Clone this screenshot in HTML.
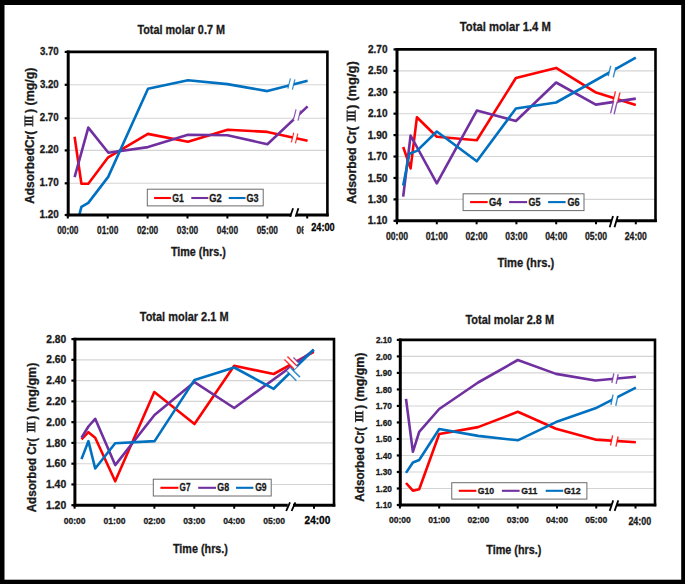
<!DOCTYPE html>
<html><head><meta charset="utf-8"><style>
html,body{margin:0;padding:0;background:#000;overflow:hidden}
svg{display:block}
text{font-family:"Liberation Sans",sans-serif}
</style></head><body>
<svg width="685" height="584" viewBox="0 0 685 584">
<rect x="0" y="0" width="685" height="584" fill="#000"/>
<rect x="4.5" y="5" width="676.7" height="574.7" fill="#fff"/>
<line x1="68.2" y1="84.80" x2="327.4" y2="84.80" stroke="#d4d4d4" stroke-width="1.1"/>
<line x1="68.2" y1="118.30" x2="327.4" y2="118.30" stroke="#d4d4d4" stroke-width="1.1"/>
<line x1="68.2" y1="150.40" x2="327.4" y2="150.40" stroke="#d4d4d4" stroke-width="1.1"/>
<line x1="68.2" y1="183.30" x2="327.4" y2="183.30" stroke="#d4d4d4" stroke-width="1.1"/>
<clipPath id="clip0"><rect x="68.2" y="51.9" width="259.2" height="163.1"/></clipPath>
<g clip-path="url(#clip0)" fill="none" stroke-width="2.6" stroke-linejoin="round" stroke-linecap="butt">
<polyline points="74.6,136.7 81.4,183.8 88.3,183.8 108.2,157.3 147.9,133.9 188.0,141.8 227.6,129.7 267.4,131.9 307.6,140.7" stroke="#ff0000"/>
<polyline points="74.6,177.2 88.3,127.6 108.4,152.7 148.0,147.1 188.0,134.8 227.4,135.2 267.4,144.3 307.6,106.4" stroke="#7030a0"/>
<polyline points="74.6,233.4 81.4,206.9 88.3,202.9 108.2,176.9 148.0,88.7 188.0,80.2 227.4,84.1 267.4,91.1 307.6,80.8" stroke="#0070c0"/>
</g>
<g transform="translate(291.4,84.0) rotate(14)">
<rect x="-2.30" y="-5.75" width="4.60" height="11.50" fill="#fff"/>
<line x1="-2.30" y1="-5.25" x2="-2.30" y2="5.25" stroke="#0070c0" stroke-width="1.2" stroke-opacity="0.8"/>
<line x1="2.30" y1="-5.25" x2="2.30" y2="5.25" stroke="#0070c0" stroke-width="1.2" stroke-opacity="0.8"/>
</g>
<g transform="translate(297.0,115.0) rotate(14)">
<rect x="-2.30" y="-5.75" width="4.60" height="11.50" fill="#fff"/>
<line x1="-2.30" y1="-5.25" x2="-2.30" y2="5.25" stroke="#7030a0" stroke-width="1.2" stroke-opacity="0.8"/>
<line x1="2.30" y1="-5.25" x2="2.30" y2="5.25" stroke="#7030a0" stroke-width="1.2" stroke-opacity="0.8"/>
</g>
<g transform="translate(294.6,138.0) rotate(14)">
<rect x="-2.10" y="-5.50" width="4.20" height="11.00" fill="#fff"/>
<line x1="-2.10" y1="-5.00" x2="-2.10" y2="5.00" stroke="#ff0000" stroke-width="1.2" stroke-opacity="0.8"/>
<line x1="2.10" y1="-5.00" x2="2.10" y2="5.00" stroke="#ff0000" stroke-width="1.2" stroke-opacity="0.8"/>
</g>
<rect x="147.3" y="189.2" width="115.89999999999998" height="16.700000000000017" fill="#fff" stroke="#6b6b6b" stroke-width="1"/>
<line x1="154.1" y1="198" x2="170.9" y2="198" stroke="#ff0000" stroke-width="2.1"/>
<text x="172.14" y="201.90" font-size="10.61" textLength="11.60" lengthAdjust="spacingAndGlyphs" fill="#1a1a1a" stroke="#1a1a1a" stroke-width="0.3" font-weight="bold" >G1</text>
<line x1="191.3" y1="198" x2="208.3" y2="198" stroke="#7030a0" stroke-width="2.1"/>
<text x="209.32" y="201.90" font-size="10.61" textLength="12.46" lengthAdjust="spacingAndGlyphs" fill="#1a1a1a" stroke="#1a1a1a" stroke-width="0.3" font-weight="bold" >G2</text>
<line x1="228.7" y1="198" x2="245.5" y2="198" stroke="#0070c0" stroke-width="2.1"/>
<text x="246.53" y="201.90" font-size="10.61" textLength="12.10" lengthAdjust="spacingAndGlyphs" fill="#1a1a1a" stroke="#1a1a1a" stroke-width="0.3" font-weight="bold" >G3</text>
<path d="M68.2,51.9 H327.4 V215.0" fill="none" stroke="#000" stroke-width="2.6" stroke-linecap="square"/>
<line x1="68.2" y1="50.6" x2="68.2" y2="216.3" stroke="#000" stroke-width="3"/>
<line x1="66.7" y1="215.0" x2="291.5" y2="215.0" stroke="#000" stroke-width="3"/>
<line x1="296.5" y1="215.0" x2="328.7" y2="215.0" stroke="#000" stroke-width="3"/>
<line x1="293.1" y1="208.3" x2="290.1" y2="216.8" stroke="#000" stroke-width="1.8"/>
<line x1="298.4" y1="208.3" x2="295.6" y2="216.8" stroke="#000" stroke-width="1.8"/>
<line x1="64.7" y1="84.80" x2="68.2" y2="84.80" stroke="#000" stroke-width="2.2"/>
<line x1="64.7" y1="118.30" x2="68.2" y2="118.30" stroke="#000" stroke-width="2.2"/>
<line x1="64.7" y1="150.40" x2="68.2" y2="150.40" stroke="#000" stroke-width="2.2"/>
<line x1="64.7" y1="183.30" x2="68.2" y2="183.30" stroke="#000" stroke-width="2.2"/>
<line x1="64.7" y1="51.90" x2="68.2" y2="51.90" stroke="#000" stroke-width="2.2"/>
<line x1="64.7" y1="215.00" x2="68.2" y2="215.00" stroke="#000" stroke-width="2.2"/>
<line x1="67.80" y1="215.0" x2="67.80" y2="218.5" stroke="#000" stroke-width="2"/>
<line x1="107.70" y1="215.0" x2="107.70" y2="218.5" stroke="#000" stroke-width="2"/>
<line x1="147.60" y1="215.0" x2="147.60" y2="218.5" stroke="#000" stroke-width="2"/>
<line x1="187.50" y1="215.0" x2="187.50" y2="218.5" stroke="#000" stroke-width="2"/>
<line x1="227.40" y1="215.0" x2="227.40" y2="218.5" stroke="#000" stroke-width="2"/>
<line x1="267.30" y1="215.0" x2="267.30" y2="218.5" stroke="#000" stroke-width="2"/>
<line x1="307.20" y1="215.0" x2="307.20" y2="218.5" stroke="#000" stroke-width="2"/>
<text x="39.88" y="55.20" font-size="10.60" textLength="18.82" lengthAdjust="spacingAndGlyphs" fill="#1a1a1a" stroke="#1a1a1a" stroke-width="0.3" font-weight="bold" >3.70</text>
<text x="39.88" y="87.70" font-size="10.60" textLength="18.82" lengthAdjust="spacingAndGlyphs" fill="#1a1a1a" stroke="#1a1a1a" stroke-width="0.3" font-weight="bold" >3.20</text>
<text x="39.76" y="121.10" font-size="10.60" textLength="18.94" lengthAdjust="spacingAndGlyphs" fill="#1a1a1a" stroke="#1a1a1a" stroke-width="0.3" font-weight="bold" >2.70</text>
<text x="39.76" y="153.30" font-size="10.60" textLength="18.94" lengthAdjust="spacingAndGlyphs" fill="#1a1a1a" stroke="#1a1a1a" stroke-width="0.3" font-weight="bold" >2.20</text>
<text x="39.48" y="186.20" font-size="10.60" textLength="19.23" lengthAdjust="spacingAndGlyphs" fill="#1a1a1a" stroke="#1a1a1a" stroke-width="0.3" font-weight="bold" >1.70</text>
<text x="39.48" y="218.30" font-size="10.60" textLength="19.23" lengthAdjust="spacingAndGlyphs" fill="#1a1a1a" stroke="#1a1a1a" stroke-width="0.3" font-weight="bold" >1.20</text>
<text x="57.17" y="233.80" font-size="10.89" textLength="21.27" lengthAdjust="spacingAndGlyphs" fill="#1a1a1a" stroke="#1a1a1a" stroke-width="0.3" font-weight="bold" >00:00</text>
<text x="97.07" y="233.80" font-size="10.89" textLength="21.27" lengthAdjust="spacingAndGlyphs" fill="#1a1a1a" stroke="#1a1a1a" stroke-width="0.3" font-weight="bold" >01:00</text>
<text x="136.97" y="233.80" font-size="10.89" textLength="21.27" lengthAdjust="spacingAndGlyphs" fill="#1a1a1a" stroke="#1a1a1a" stroke-width="0.3" font-weight="bold" >02:00</text>
<text x="176.87" y="233.80" font-size="10.89" textLength="21.27" lengthAdjust="spacingAndGlyphs" fill="#1a1a1a" stroke="#1a1a1a" stroke-width="0.3" font-weight="bold" >03:00</text>
<text x="216.77" y="233.80" font-size="10.89" textLength="21.27" lengthAdjust="spacingAndGlyphs" fill="#1a1a1a" stroke="#1a1a1a" stroke-width="0.3" font-weight="bold" >04:00</text>
<text x="256.67" y="233.80" font-size="10.89" textLength="21.27" lengthAdjust="spacingAndGlyphs" fill="#1a1a1a" stroke="#1a1a1a" stroke-width="0.3" font-weight="bold" >05:00</text>
<text x="296.57" y="233.80" font-size="10.89" textLength="21.27" lengthAdjust="spacingAndGlyphs" fill="#1a1a1a" stroke="#1a1a1a" stroke-width="0.3" font-weight="bold" >06:00</text>
<rect x="303.6" y="219" width="34" height="17" fill="#fff"/>
<text x="311.18" y="231.10" font-size="11.03" textLength="23.50" lengthAdjust="spacingAndGlyphs" fill="#000" stroke="#000" stroke-width="0.3" font-weight="bold" >24:00</text>
<text x="137.38" y="33.70" font-size="12.50" textLength="87.54" lengthAdjust="spacingAndGlyphs" fill="#1a1a1a" stroke="#1a1a1a" stroke-width="0.3" font-weight="bold" >Total molar 0.7 M</text>
<text x="170.88" y="256.20" font-size="11.92" textLength="54.85" lengthAdjust="spacingAndGlyphs" fill="#1a1a1a" stroke="#1a1a1a" stroke-width="0.3" font-weight="bold" >Time (hrs.)</text>
<text transform="rotate(-90)" x="-203.80" y="33.50" font-size="12.65" textLength="73.01" lengthAdjust="spacingAndGlyphs" fill="#1a1a1a" stroke="#1a1a1a" stroke-width="0.3" font-weight="bold">AdsorbedCr(</text>
<text transform="rotate(-90)" x="-113.01" y="33.50" font-size="12.65" textLength="45.33" lengthAdjust="spacingAndGlyphs" fill="#1a1a1a" stroke="#1a1a1a" stroke-width="0.3" font-weight="bold">) (mg/g)</text>
<rect x="25.00" y="116.83" width="7.70" height="1.78" fill="#1a1a1a"/>
<rect x="25.00" y="120.16" width="7.70" height="1.78" fill="#1a1a1a"/>
<rect x="25.00" y="123.49" width="7.70" height="1.78" fill="#1a1a1a"/>
<rect x="24.40" y="115.50" width="1.0" height="11.10" fill="#1a1a1a"/>
<rect x="32.30" y="115.50" width="1.0" height="11.10" fill="#1a1a1a"/>
<line x1="397.0" y1="70.83" x2="655.5" y2="70.83" stroke="#d4d4d4" stroke-width="1.1"/>
<line x1="397.0" y1="92.25" x2="655.5" y2="92.25" stroke="#d4d4d4" stroke-width="1.1"/>
<line x1="397.0" y1="113.68" x2="655.5" y2="113.68" stroke="#d4d4d4" stroke-width="1.1"/>
<line x1="397.0" y1="135.10" x2="655.5" y2="135.10" stroke="#d4d4d4" stroke-width="1.1"/>
<line x1="397.0" y1="156.53" x2="655.5" y2="156.53" stroke="#d4d4d4" stroke-width="1.1"/>
<line x1="397.0" y1="177.95" x2="655.5" y2="177.95" stroke="#d4d4d4" stroke-width="1.1"/>
<line x1="397.0" y1="199.38" x2="655.5" y2="199.38" stroke="#d4d4d4" stroke-width="1.1"/>
<clipPath id="clip1"><rect x="397.0" y="49.4" width="258.5" height="171.4"/></clipPath>
<g clip-path="url(#clip1)" fill="none" stroke-width="2.6" stroke-linejoin="round" stroke-linecap="butt">
<polyline points="403.2,147.0 410.6,168.4 416.9,117.3 436.8,136.7 476.8,140.2 515.9,78.0 556.1,67.9 595.3,92.2 635.8,105.1" stroke="#ff0000"/>
<polyline points="403.2,196.6 410.6,135.5 436.8,183.4 476.8,110.6 515.9,121.0 556.1,82.5 595.8,104.6 635.8,98.6" stroke="#7030a0"/>
<polyline points="403.2,185.5 409.4,153.8 416.9,150.9 436.8,131.5 476.8,161.3 515.9,108.5 556.1,102.5 635.8,57.6" stroke="#0070c0"/>
</g>
<g transform="translate(612.0,71.6) rotate(14)">
<rect x="-2.60" y="-5.75" width="5.20" height="11.50" fill="#fff"/>
<line x1="-2.60" y1="-5.25" x2="-2.60" y2="5.25" stroke="#0070c0" stroke-width="1.4" stroke-opacity="0.8"/>
<line x1="2.60" y1="-5.25" x2="2.60" y2="5.25" stroke="#0070c0" stroke-width="1.4" stroke-opacity="0.8"/>
</g>
<g transform="translate(616.4,97.3) rotate(14)">
<rect x="-2.30" y="-6.00" width="4.60" height="12.00" fill="#fff"/>
<line x1="-2.30" y1="-5.50" x2="-2.30" y2="5.50" stroke="#ff0000" stroke-width="1.4" stroke-opacity="0.8"/>
<line x1="2.30" y1="-5.50" x2="2.30" y2="5.50" stroke="#ff0000" stroke-width="1.4" stroke-opacity="0.8"/>
</g>
<g transform="translate(613.9,107.5) rotate(14)">
<rect x="-1.80" y="-7.00" width="3.60" height="14.00" fill="#fff"/>
<line x1="-1.80" y1="-6.50" x2="-1.80" y2="6.50" stroke="#7030a0" stroke-width="1.4" stroke-opacity="0.8"/>
<line x1="1.80" y1="-6.50" x2="1.80" y2="6.50" stroke="#7030a0" stroke-width="1.4" stroke-opacity="0.8"/>
</g>
<rect x="463.1" y="193.8" width="120.89999999999998" height="16.799999999999983" fill="#fff" stroke="#6b6b6b" stroke-width="1"/>
<line x1="470.1" y1="202.1" x2="487.7" y2="202.1" stroke="#ff0000" stroke-width="2.1"/>
<text x="489.01" y="205.90" font-size="10.61" textLength="12.54" lengthAdjust="spacingAndGlyphs" fill="#1a1a1a" stroke="#1a1a1a" stroke-width="0.3" font-weight="bold" >G4</text>
<line x1="509.1" y1="202.1" x2="527.1" y2="202.1" stroke="#7030a0" stroke-width="2.1"/>
<text x="528.43" y="205.90" font-size="10.61" textLength="12.02" lengthAdjust="spacingAndGlyphs" fill="#1a1a1a" stroke="#1a1a1a" stroke-width="0.3" font-weight="bold" >G5</text>
<line x1="548.1" y1="202.1" x2="565.6" y2="202.1" stroke="#0070c0" stroke-width="2.1"/>
<text x="567.43" y="205.90" font-size="10.61" textLength="12.10" lengthAdjust="spacingAndGlyphs" fill="#1a1a1a" stroke="#1a1a1a" stroke-width="0.3" font-weight="bold" >G6</text>
<path d="M397.0,49.4 H655.5 V220.8" fill="none" stroke="#000" stroke-width="2.6" stroke-linecap="square"/>
<line x1="397.0" y1="48.1" x2="397.0" y2="222.10000000000002" stroke="#000" stroke-width="3"/>
<line x1="395.5" y1="220.8" x2="611.6" y2="220.8" stroke="#000" stroke-width="3"/>
<line x1="616.2" y1="220.8" x2="656.8" y2="220.8" stroke="#000" stroke-width="3"/>
<line x1="613.0" y1="216.0" x2="609.7" y2="227.3" stroke="#000" stroke-width="1.8"/>
<line x1="617.8" y1="216.0" x2="614.5" y2="227.3" stroke="#000" stroke-width="1.8"/>
<line x1="393.5" y1="70.83" x2="397.0" y2="70.83" stroke="#000" stroke-width="2.2"/>
<line x1="393.5" y1="92.25" x2="397.0" y2="92.25" stroke="#000" stroke-width="2.2"/>
<line x1="393.5" y1="113.68" x2="397.0" y2="113.68" stroke="#000" stroke-width="2.2"/>
<line x1="393.5" y1="135.10" x2="397.0" y2="135.10" stroke="#000" stroke-width="2.2"/>
<line x1="393.5" y1="156.53" x2="397.0" y2="156.53" stroke="#000" stroke-width="2.2"/>
<line x1="393.5" y1="177.95" x2="397.0" y2="177.95" stroke="#000" stroke-width="2.2"/>
<line x1="393.5" y1="199.38" x2="397.0" y2="199.38" stroke="#000" stroke-width="2.2"/>
<line x1="393.5" y1="49.40" x2="397.0" y2="49.40" stroke="#000" stroke-width="2.2"/>
<line x1="393.5" y1="220.80" x2="397.0" y2="220.80" stroke="#000" stroke-width="2.2"/>
<line x1="397.00" y1="220.8" x2="397.00" y2="224.3" stroke="#000" stroke-width="2"/>
<line x1="436.80" y1="220.8" x2="436.80" y2="224.3" stroke="#000" stroke-width="2"/>
<line x1="476.60" y1="220.8" x2="476.60" y2="224.3" stroke="#000" stroke-width="2"/>
<line x1="516.40" y1="220.8" x2="516.40" y2="224.3" stroke="#000" stroke-width="2"/>
<line x1="556.20" y1="220.8" x2="556.20" y2="224.3" stroke="#000" stroke-width="2"/>
<line x1="596.00" y1="220.8" x2="596.00" y2="224.3" stroke="#000" stroke-width="2"/>
<line x1="635.80" y1="220.8" x2="635.80" y2="224.3" stroke="#000" stroke-width="2"/>
<text x="367.95" y="53.05" font-size="10.46" textLength="19.56" lengthAdjust="spacingAndGlyphs" fill="#1a1a1a" stroke="#1a1a1a" stroke-width="0.3" font-weight="bold" >2.70</text>
<text x="367.95" y="74.48" font-size="10.46" textLength="19.56" lengthAdjust="spacingAndGlyphs" fill="#1a1a1a" stroke="#1a1a1a" stroke-width="0.3" font-weight="bold" >2.50</text>
<text x="367.95" y="95.90" font-size="10.46" textLength="19.56" lengthAdjust="spacingAndGlyphs" fill="#1a1a1a" stroke="#1a1a1a" stroke-width="0.3" font-weight="bold" >2.30</text>
<text x="367.95" y="117.33" font-size="10.46" textLength="19.56" lengthAdjust="spacingAndGlyphs" fill="#1a1a1a" stroke="#1a1a1a" stroke-width="0.3" font-weight="bold" >2.10</text>
<text x="367.66" y="138.75" font-size="10.46" textLength="19.86" lengthAdjust="spacingAndGlyphs" fill="#1a1a1a" stroke="#1a1a1a" stroke-width="0.3" font-weight="bold" >1.90</text>
<text x="367.66" y="160.18" font-size="10.46" textLength="19.86" lengthAdjust="spacingAndGlyphs" fill="#1a1a1a" stroke="#1a1a1a" stroke-width="0.3" font-weight="bold" >1.70</text>
<text x="367.66" y="181.60" font-size="10.46" textLength="19.86" lengthAdjust="spacingAndGlyphs" fill="#1a1a1a" stroke="#1a1a1a" stroke-width="0.3" font-weight="bold" >1.50</text>
<text x="367.66" y="203.03" font-size="10.46" textLength="19.86" lengthAdjust="spacingAndGlyphs" fill="#1a1a1a" stroke="#1a1a1a" stroke-width="0.3" font-weight="bold" >1.30</text>
<text x="367.66" y="224.45" font-size="10.46" textLength="19.86" lengthAdjust="spacingAndGlyphs" fill="#1a1a1a" stroke="#1a1a1a" stroke-width="0.3" font-weight="bold" >1.10</text>
<text x="385.96" y="239.80" font-size="10.32" textLength="22.10" lengthAdjust="spacingAndGlyphs" fill="#1a1a1a" stroke="#1a1a1a" stroke-width="0.3" font-weight="bold" >00:00</text>
<text x="425.76" y="239.80" font-size="10.32" textLength="22.10" lengthAdjust="spacingAndGlyphs" fill="#1a1a1a" stroke="#1a1a1a" stroke-width="0.3" font-weight="bold" >01:00</text>
<text x="465.56" y="239.80" font-size="10.32" textLength="22.10" lengthAdjust="spacingAndGlyphs" fill="#1a1a1a" stroke="#1a1a1a" stroke-width="0.3" font-weight="bold" >02:00</text>
<text x="505.36" y="239.80" font-size="10.32" textLength="22.10" lengthAdjust="spacingAndGlyphs" fill="#1a1a1a" stroke="#1a1a1a" stroke-width="0.3" font-weight="bold" >03:00</text>
<text x="545.16" y="239.80" font-size="10.32" textLength="22.10" lengthAdjust="spacingAndGlyphs" fill="#1a1a1a" stroke="#1a1a1a" stroke-width="0.3" font-weight="bold" >04:00</text>
<text x="584.96" y="239.80" font-size="10.32" textLength="22.10" lengthAdjust="spacingAndGlyphs" fill="#1a1a1a" stroke="#1a1a1a" stroke-width="0.3" font-weight="bold" >05:00</text>
<text x="624.80" y="239.80" font-size="10.32" textLength="22.05" lengthAdjust="spacingAndGlyphs" fill="#1a1a1a" stroke="#1a1a1a" stroke-width="0.3" font-weight="bold" >24:00</text>
<text x="459.77" y="30.80" font-size="12.94" textLength="91.07" lengthAdjust="spacingAndGlyphs" fill="#1a1a1a" stroke="#1a1a1a" stroke-width="0.3" font-weight="bold" >Total molar 1.4 M</text>
<text x="497.38" y="266.90" font-size="12.50" textLength="56.88" lengthAdjust="spacingAndGlyphs" fill="#1a1a1a" stroke="#1a1a1a" stroke-width="0.3" font-weight="bold" >Time (hrs.)</text>
<text transform="rotate(-90)" x="-203.80" y="356.20" font-size="13.08" textLength="77.41" lengthAdjust="spacingAndGlyphs" fill="#1a1a1a" stroke="#1a1a1a" stroke-width="0.3" font-weight="bold">Adsorbed Cr(</text>
<text transform="rotate(-90)" x="-109.01" y="356.20" font-size="13.08" textLength="47.86" lengthAdjust="spacingAndGlyphs" fill="#1a1a1a" stroke="#1a1a1a" stroke-width="0.3" font-weight="bold">) (mg/g)</text>
<rect x="347.20" y="111.49" width="7.90" height="1.86" fill="#1a1a1a"/>
<rect x="347.20" y="114.97" width="7.90" height="1.86" fill="#1a1a1a"/>
<rect x="347.20" y="118.45" width="7.90" height="1.86" fill="#1a1a1a"/>
<rect x="346.60" y="110.10" width="1.0" height="11.60" fill="#1a1a1a"/>
<rect x="354.70" y="110.10" width="1.0" height="11.60" fill="#1a1a1a"/>
<line x1="74.9" y1="359.86" x2="334.0" y2="359.86" stroke="#d4d4d4" stroke-width="1.1"/>
<line x1="74.9" y1="380.62" x2="334.0" y2="380.62" stroke="#d4d4d4" stroke-width="1.1"/>
<line x1="74.9" y1="401.39" x2="334.0" y2="401.39" stroke="#d4d4d4" stroke-width="1.1"/>
<line x1="74.9" y1="422.15" x2="334.0" y2="422.15" stroke="#d4d4d4" stroke-width="1.1"/>
<line x1="74.9" y1="442.91" x2="334.0" y2="442.91" stroke="#d4d4d4" stroke-width="1.1"/>
<line x1="74.9" y1="463.68" x2="334.0" y2="463.68" stroke="#d4d4d4" stroke-width="1.1"/>
<line x1="74.9" y1="484.44" x2="334.0" y2="484.44" stroke="#d4d4d4" stroke-width="1.1"/>
<clipPath id="clip2"><rect x="74.9" y="339.1" width="259.1" height="166.09999999999997"/></clipPath>
<g clip-path="url(#clip2)" fill="none" stroke-width="2.6" stroke-linejoin="round" stroke-linecap="butt">
<polyline points="81.5,439.4 88.4,432.2 95.2,437.7 115.2,481.3 154.3,392.0 194.5,424.0 234.2,365.8 273.7,374.0 313.8,351.9" stroke="#ff0000"/>
<polyline points="81.5,437.7 88.4,426.5 95.2,418.8 115.2,465.1 154.5,415.0 194.5,382.1 234.2,408.0 313.8,350.3" stroke="#7030a0"/>
<polyline points="81.5,459.1 88.4,441.1 95.2,468.5 115.2,443.2 154.6,441.1 194.5,379.9 234.2,367.5 273.7,388.8 313.8,349.5" stroke="#0070c0"/>
</g>
<g transform="translate(293.6,374.3) rotate(-45)">
<rect x="-2.50" y="-7.00" width="5.00" height="14.00" fill="#fff"/>
<line x1="-2.50" y1="-6.50" x2="-2.50" y2="6.50" stroke="#0070c0" stroke-width="1.5" stroke-opacity="0.8"/>
<line x1="2.50" y1="-6.50" x2="2.50" y2="6.50" stroke="#0070c0" stroke-width="1.5" stroke-opacity="0.8"/>
</g>
<g transform="translate(294.5,361.5) rotate(-45)">
<rect x="-2.00" y="-4.00" width="4.00" height="8.00" fill="#fff"/>
<line x1="-2.00" y1="-3.50" x2="-2.00" y2="3.50" stroke="#7030a0" stroke-width="1.4" stroke-opacity="0.8"/>
<line x1="2.00" y1="-3.50" x2="2.00" y2="3.50" stroke="#7030a0" stroke-width="1.4" stroke-opacity="0.8"/>
</g>
<g transform="translate(290.7,362.8) rotate(-45)">
<rect x="-2.10" y="-7.25" width="4.20" height="14.50" fill="#fff"/>
<line x1="-2.10" y1="-6.75" x2="-2.10" y2="6.75" stroke="#ff0000" stroke-width="1.5" stroke-opacity="0.8"/>
<line x1="2.10" y1="-6.75" x2="2.10" y2="6.75" stroke="#ff0000" stroke-width="1.5" stroke-opacity="0.8"/>
</g>
<rect x="153.3" y="479.2" width="117.89999999999998" height="16.80000000000001" fill="#fff" stroke="#6b6b6b" stroke-width="1"/>
<line x1="160.4" y1="487.8" x2="178.4" y2="487.8" stroke="#ff0000" stroke-width="2.1"/>
<text x="179.57" y="491.40" font-size="10.17" textLength="10.89" lengthAdjust="spacingAndGlyphs" fill="#1a1a1a" stroke="#1a1a1a" stroke-width="0.3" font-weight="bold" >G7</text>
<line x1="198.2" y1="487.8" x2="216.0" y2="487.8" stroke="#7030a0" stroke-width="2.1"/>
<text x="217.34" y="491.40" font-size="10.17" textLength="11.84" lengthAdjust="spacingAndGlyphs" fill="#1a1a1a" stroke="#1a1a1a" stroke-width="0.3" font-weight="bold" >G8</text>
<line x1="236.0" y1="487.8" x2="253.4" y2="487.8" stroke="#0070c0" stroke-width="2.1"/>
<text x="255.15" y="491.40" font-size="10.17" textLength="11.47" lengthAdjust="spacingAndGlyphs" fill="#1a1a1a" stroke="#1a1a1a" stroke-width="0.3" font-weight="bold" >G9</text>
<path d="M74.9,339.1 H334.0 V505.2" fill="none" stroke="#000" stroke-width="2.6" stroke-linecap="square"/>
<line x1="74.9" y1="337.8" x2="74.9" y2="506.5" stroke="#000" stroke-width="3"/>
<line x1="73.4" y1="505.2" x2="287.8" y2="505.2" stroke="#000" stroke-width="3"/>
<line x1="293.0" y1="505.2" x2="335.3" y2="505.2" stroke="#000" stroke-width="3"/>
<line x1="290.0" y1="502.3" x2="286.2" y2="511.0" stroke="#000" stroke-width="1.8"/>
<line x1="295.4" y1="502.3" x2="291.6" y2="511.0" stroke="#000" stroke-width="1.8"/>
<line x1="71.4" y1="359.86" x2="74.9" y2="359.86" stroke="#000" stroke-width="2.2"/>
<line x1="71.4" y1="380.62" x2="74.9" y2="380.62" stroke="#000" stroke-width="2.2"/>
<line x1="71.4" y1="401.39" x2="74.9" y2="401.39" stroke="#000" stroke-width="2.2"/>
<line x1="71.4" y1="422.15" x2="74.9" y2="422.15" stroke="#000" stroke-width="2.2"/>
<line x1="71.4" y1="442.91" x2="74.9" y2="442.91" stroke="#000" stroke-width="2.2"/>
<line x1="71.4" y1="463.68" x2="74.9" y2="463.68" stroke="#000" stroke-width="2.2"/>
<line x1="71.4" y1="484.44" x2="74.9" y2="484.44" stroke="#000" stroke-width="2.2"/>
<line x1="71.4" y1="339.10" x2="74.9" y2="339.10" stroke="#000" stroke-width="2.2"/>
<line x1="71.4" y1="505.20" x2="74.9" y2="505.20" stroke="#000" stroke-width="2.2"/>
<line x1="74.60" y1="505.2" x2="74.60" y2="508.7" stroke="#000" stroke-width="2"/>
<line x1="114.50" y1="505.2" x2="114.50" y2="508.7" stroke="#000" stroke-width="2"/>
<line x1="154.40" y1="505.2" x2="154.40" y2="508.7" stroke="#000" stroke-width="2"/>
<line x1="194.30" y1="505.2" x2="194.30" y2="508.7" stroke="#000" stroke-width="2"/>
<line x1="234.20" y1="505.2" x2="234.20" y2="508.7" stroke="#000" stroke-width="2"/>
<line x1="274.10" y1="505.2" x2="274.10" y2="508.7" stroke="#000" stroke-width="2"/>
<line x1="314.00" y1="505.2" x2="314.00" y2="508.7" stroke="#000" stroke-width="2"/>
<text x="46.24" y="342.70" font-size="10.32" textLength="19.98" lengthAdjust="spacingAndGlyphs" fill="#1a1a1a" stroke="#1a1a1a" stroke-width="0.3" font-weight="bold" >2.80</text>
<text x="46.24" y="363.46" font-size="10.32" textLength="19.98" lengthAdjust="spacingAndGlyphs" fill="#1a1a1a" stroke="#1a1a1a" stroke-width="0.3" font-weight="bold" >2.60</text>
<text x="46.24" y="384.23" font-size="10.32" textLength="19.98" lengthAdjust="spacingAndGlyphs" fill="#1a1a1a" stroke="#1a1a1a" stroke-width="0.3" font-weight="bold" >2.40</text>
<text x="46.24" y="404.99" font-size="10.32" textLength="19.98" lengthAdjust="spacingAndGlyphs" fill="#1a1a1a" stroke="#1a1a1a" stroke-width="0.3" font-weight="bold" >2.20</text>
<text x="46.24" y="425.75" font-size="10.32" textLength="19.98" lengthAdjust="spacingAndGlyphs" fill="#1a1a1a" stroke="#1a1a1a" stroke-width="0.3" font-weight="bold" >2.00</text>
<text x="45.94" y="446.51" font-size="10.32" textLength="20.28" lengthAdjust="spacingAndGlyphs" fill="#1a1a1a" stroke="#1a1a1a" stroke-width="0.3" font-weight="bold" >1.80</text>
<text x="45.94" y="467.28" font-size="10.32" textLength="20.28" lengthAdjust="spacingAndGlyphs" fill="#1a1a1a" stroke="#1a1a1a" stroke-width="0.3" font-weight="bold" >1.60</text>
<text x="45.94" y="488.04" font-size="10.32" textLength="20.28" lengthAdjust="spacingAndGlyphs" fill="#1a1a1a" stroke="#1a1a1a" stroke-width="0.3" font-weight="bold" >1.40</text>
<text x="45.94" y="508.80" font-size="10.32" textLength="20.28" lengthAdjust="spacingAndGlyphs" fill="#1a1a1a" stroke="#1a1a1a" stroke-width="0.3" font-weight="bold" >1.20</text>
<text x="63.66" y="524.00" font-size="9.74" textLength="21.89" lengthAdjust="spacingAndGlyphs" fill="#1a1a1a" stroke="#1a1a1a" stroke-width="0.3" font-weight="bold" >00:00</text>
<text x="103.56" y="524.00" font-size="9.74" textLength="21.89" lengthAdjust="spacingAndGlyphs" fill="#1a1a1a" stroke="#1a1a1a" stroke-width="0.3" font-weight="bold" >01:00</text>
<text x="143.46" y="524.00" font-size="9.74" textLength="21.89" lengthAdjust="spacingAndGlyphs" fill="#1a1a1a" stroke="#1a1a1a" stroke-width="0.3" font-weight="bold" >02:00</text>
<text x="183.36" y="524.00" font-size="9.74" textLength="21.89" lengthAdjust="spacingAndGlyphs" fill="#1a1a1a" stroke="#1a1a1a" stroke-width="0.3" font-weight="bold" >03:00</text>
<text x="223.26" y="524.00" font-size="9.74" textLength="21.89" lengthAdjust="spacingAndGlyphs" fill="#1a1a1a" stroke="#1a1a1a" stroke-width="0.3" font-weight="bold" >04:00</text>
<text x="263.16" y="524.00" font-size="9.74" textLength="21.89" lengthAdjust="spacingAndGlyphs" fill="#1a1a1a" stroke="#1a1a1a" stroke-width="0.3" font-weight="bold" >05:00</text>
<text x="304.55" y="524.40" font-size="10.89" textLength="25.76" lengthAdjust="spacingAndGlyphs" fill="#000" stroke="#000" stroke-width="0.3" font-weight="bold" >24:00</text>
<text x="139.78" y="320.90" font-size="13.23" textLength="88.75" lengthAdjust="spacingAndGlyphs" fill="#1a1a1a" stroke="#1a1a1a" stroke-width="0.3" font-weight="bold" >Total molar 2.1 M</text>
<text x="172.98" y="552.50" font-size="12.35" textLength="54.96" lengthAdjust="spacingAndGlyphs" fill="#1a1a1a" stroke="#1a1a1a" stroke-width="0.3" font-weight="bold" >Time (hrs.)</text>
<text transform="rotate(-90)" x="-512.29" y="35.70" font-size="12.06" textLength="74.30" lengthAdjust="spacingAndGlyphs" fill="#1a1a1a" stroke="#1a1a1a" stroke-width="0.3" font-weight="bold">Adsorbed Cr(</text>
<text transform="rotate(-90)" x="-419.71" y="35.70" font-size="12.06" textLength="57.04" lengthAdjust="spacingAndGlyphs" fill="#1a1a1a" stroke="#1a1a1a" stroke-width="0.3" font-weight="bold">) (mg/gm)</text>
<rect x="27.40" y="422.72" width="7.40" height="1.76" fill="#1a1a1a"/>
<rect x="27.40" y="426.02" width="7.40" height="1.76" fill="#1a1a1a"/>
<rect x="27.40" y="429.32" width="7.40" height="1.76" fill="#1a1a1a"/>
<rect x="26.80" y="421.40" width="1.0" height="11.00" fill="#1a1a1a"/>
<rect x="34.40" y="421.40" width="1.0" height="11.00" fill="#1a1a1a"/>
<line x1="400.3" y1="356.41" x2="655.0" y2="356.41" stroke="#d4d4d4" stroke-width="1.1"/>
<line x1="400.3" y1="372.92" x2="655.0" y2="372.92" stroke="#d4d4d4" stroke-width="1.1"/>
<line x1="400.3" y1="389.43" x2="655.0" y2="389.43" stroke="#d4d4d4" stroke-width="1.1"/>
<line x1="400.3" y1="405.94" x2="655.0" y2="405.94" stroke="#d4d4d4" stroke-width="1.1"/>
<line x1="400.3" y1="422.45" x2="655.0" y2="422.45" stroke="#d4d4d4" stroke-width="1.1"/>
<line x1="400.3" y1="438.96" x2="655.0" y2="438.96" stroke="#d4d4d4" stroke-width="1.1"/>
<line x1="400.3" y1="455.47" x2="655.0" y2="455.47" stroke="#d4d4d4" stroke-width="1.1"/>
<line x1="400.3" y1="471.98" x2="655.0" y2="471.98" stroke="#d4d4d4" stroke-width="1.1"/>
<line x1="400.3" y1="488.49" x2="655.0" y2="488.49" stroke="#d4d4d4" stroke-width="1.1"/>
<clipPath id="clip3"><rect x="400.3" y="339.9" width="254.7" height="165.10000000000002"/></clipPath>
<g clip-path="url(#clip3)" fill="none" stroke-width="2.6" stroke-linejoin="round" stroke-linecap="butt">
<polyline points="406.0,483.0 412.9,490.7 419.2,489.3 439.2,434.0 478.1,427.1 517.8,411.8 556.0,428.7 595.4,439.6 635.9,442.3" stroke="#ff0000"/>
<polyline points="406.0,398.9 412.9,451.8 419.2,431.8 439.2,409.0 478.1,382.5 517.8,360.0 556.0,373.9 595.4,380.5 635.9,376.8" stroke="#7030a0"/>
<polyline points="406.0,472.9 412.9,462.5 419.2,460.0 439.2,429.0 478.1,435.9 517.8,440.3 556.0,422.1 595.4,408.3 635.9,387.7" stroke="#0070c0"/>
</g>
<g transform="translate(615.0,378.6) rotate(12)">
<rect x="-2.20" y="-5.40" width="4.40" height="10.80" fill="#fff"/>
<line x1="-2.20" y1="-4.90" x2="-2.20" y2="4.90" stroke="#7030a0" stroke-width="1.4" stroke-opacity="0.8"/>
<line x1="2.20" y1="-4.90" x2="2.20" y2="4.90" stroke="#7030a0" stroke-width="1.4" stroke-opacity="0.8"/>
</g>
<g transform="translate(614.4,400.2) rotate(12)">
<rect x="-2.50" y="-5.70" width="5.00" height="11.40" fill="#fff"/>
<line x1="-2.50" y1="-5.20" x2="-2.50" y2="5.20" stroke="#0070c0" stroke-width="1.4" stroke-opacity="0.8"/>
<line x1="2.50" y1="-5.20" x2="2.50" y2="5.20" stroke="#0070c0" stroke-width="1.4" stroke-opacity="0.8"/>
</g>
<g transform="translate(614.3,441.0) rotate(12)">
<rect x="-2.80" y="-5.70" width="5.60" height="11.40" fill="#fff"/>
<line x1="-2.80" y1="-5.20" x2="-2.80" y2="5.20" stroke="#ff0000" stroke-width="1.4" stroke-opacity="0.8"/>
<line x1="2.80" y1="-5.20" x2="2.80" y2="5.20" stroke="#ff0000" stroke-width="1.4" stroke-opacity="0.8"/>
</g>
<rect x="451.75" y="482.7" width="135.14999999999998" height="16.400000000000034" fill="#fff" stroke="#6b6b6b" stroke-width="1"/>
<line x1="458.8" y1="490.8" x2="476.3" y2="490.8" stroke="#ff0000" stroke-width="2.1"/>
<text x="477.64" y="494.40" font-size="9.88" textLength="16.52" lengthAdjust="spacingAndGlyphs" fill="#1a1a1a" stroke="#1a1a1a" stroke-width="0.3" font-weight="bold" >G10</text>
<line x1="501.9" y1="490.8" x2="519.6" y2="490.8" stroke="#7030a0" stroke-width="2.1"/>
<text x="521.25" y="494.40" font-size="9.88" textLength="16.09" lengthAdjust="spacingAndGlyphs" fill="#1a1a1a" stroke="#1a1a1a" stroke-width="0.3" font-weight="bold" >G11</text>
<line x1="545.7" y1="490.8" x2="563.2" y2="490.8" stroke="#0070c0" stroke-width="2.1"/>
<text x="563.94" y="494.40" font-size="9.88" textLength="16.72" lengthAdjust="spacingAndGlyphs" fill="#1a1a1a" stroke="#1a1a1a" stroke-width="0.3" font-weight="bold" >G12</text>
<path d="M400.3,339.9 H655.0 V505.0" fill="none" stroke="#000" stroke-width="2.6" stroke-linecap="square"/>
<line x1="400.3" y1="338.59999999999997" x2="400.3" y2="506.3" stroke="#000" stroke-width="3"/>
<line x1="398.8" y1="505.0" x2="611.8" y2="505.0" stroke="#000" stroke-width="3"/>
<line x1="616.4" y1="505.0" x2="656.3" y2="505.0" stroke="#000" stroke-width="3"/>
<line x1="613.2" y1="500.4" x2="609.7" y2="510.9" stroke="#000" stroke-width="1.8"/>
<line x1="618.3" y1="500.4" x2="614.6" y2="510.9" stroke="#000" stroke-width="1.8"/>
<line x1="396.8" y1="356.41" x2="400.3" y2="356.41" stroke="#000" stroke-width="2.2"/>
<line x1="396.8" y1="372.92" x2="400.3" y2="372.92" stroke="#000" stroke-width="2.2"/>
<line x1="396.8" y1="389.43" x2="400.3" y2="389.43" stroke="#000" stroke-width="2.2"/>
<line x1="396.8" y1="405.94" x2="400.3" y2="405.94" stroke="#000" stroke-width="2.2"/>
<line x1="396.8" y1="422.45" x2="400.3" y2="422.45" stroke="#000" stroke-width="2.2"/>
<line x1="396.8" y1="438.96" x2="400.3" y2="438.96" stroke="#000" stroke-width="2.2"/>
<line x1="396.8" y1="455.47" x2="400.3" y2="455.47" stroke="#000" stroke-width="2.2"/>
<line x1="396.8" y1="471.98" x2="400.3" y2="471.98" stroke="#000" stroke-width="2.2"/>
<line x1="396.8" y1="488.49" x2="400.3" y2="488.49" stroke="#000" stroke-width="2.2"/>
<line x1="396.8" y1="339.90" x2="400.3" y2="339.90" stroke="#000" stroke-width="2.2"/>
<line x1="396.8" y1="505.00" x2="400.3" y2="505.00" stroke="#000" stroke-width="2.2"/>
<line x1="399.90" y1="505.0" x2="399.90" y2="508.5" stroke="#000" stroke-width="2"/>
<line x1="439.17" y1="505.0" x2="439.17" y2="508.5" stroke="#000" stroke-width="2"/>
<line x1="478.44" y1="505.0" x2="478.44" y2="508.5" stroke="#000" stroke-width="2"/>
<line x1="517.71" y1="505.0" x2="517.71" y2="508.5" stroke="#000" stroke-width="2"/>
<line x1="556.98" y1="505.0" x2="556.98" y2="508.5" stroke="#000" stroke-width="2"/>
<line x1="596.25" y1="505.0" x2="596.25" y2="508.5" stroke="#000" stroke-width="2"/>
<line x1="635.52" y1="505.0" x2="635.52" y2="508.5" stroke="#000" stroke-width="2"/>
<text x="375.91" y="343.00" font-size="8.88" textLength="16.02" lengthAdjust="spacingAndGlyphs" fill="#1a1a1a" stroke="#1a1a1a" stroke-width="0.3" font-weight="bold" >2.10</text>
<text x="375.91" y="359.51" font-size="8.88" textLength="16.02" lengthAdjust="spacingAndGlyphs" fill="#1a1a1a" stroke="#1a1a1a" stroke-width="0.3" font-weight="bold" >2.00</text>
<text x="375.67" y="376.02" font-size="8.88" textLength="16.27" lengthAdjust="spacingAndGlyphs" fill="#1a1a1a" stroke="#1a1a1a" stroke-width="0.3" font-weight="bold" >1.90</text>
<text x="375.67" y="392.53" font-size="8.88" textLength="16.27" lengthAdjust="spacingAndGlyphs" fill="#1a1a1a" stroke="#1a1a1a" stroke-width="0.3" font-weight="bold" >1.80</text>
<text x="375.67" y="409.04" font-size="8.88" textLength="16.27" lengthAdjust="spacingAndGlyphs" fill="#1a1a1a" stroke="#1a1a1a" stroke-width="0.3" font-weight="bold" >1.70</text>
<text x="375.67" y="425.55" font-size="8.88" textLength="16.27" lengthAdjust="spacingAndGlyphs" fill="#1a1a1a" stroke="#1a1a1a" stroke-width="0.3" font-weight="bold" >1.60</text>
<text x="375.67" y="442.06" font-size="8.88" textLength="16.27" lengthAdjust="spacingAndGlyphs" fill="#1a1a1a" stroke="#1a1a1a" stroke-width="0.3" font-weight="bold" >1.50</text>
<text x="375.67" y="458.57" font-size="8.88" textLength="16.27" lengthAdjust="spacingAndGlyphs" fill="#1a1a1a" stroke="#1a1a1a" stroke-width="0.3" font-weight="bold" >1.40</text>
<text x="375.67" y="475.08" font-size="8.88" textLength="16.27" lengthAdjust="spacingAndGlyphs" fill="#1a1a1a" stroke="#1a1a1a" stroke-width="0.3" font-weight="bold" >1.30</text>
<text x="375.67" y="491.59" font-size="8.88" textLength="16.27" lengthAdjust="spacingAndGlyphs" fill="#1a1a1a" stroke="#1a1a1a" stroke-width="0.3" font-weight="bold" >1.20</text>
<text x="375.67" y="508.10" font-size="8.88" textLength="16.27" lengthAdjust="spacingAndGlyphs" fill="#1a1a1a" stroke="#1a1a1a" stroke-width="0.3" font-weight="bold" >1.10</text>
<text x="388.96" y="523.40" font-size="9.46" textLength="21.89" lengthAdjust="spacingAndGlyphs" fill="#1a1a1a" stroke="#1a1a1a" stroke-width="0.3" font-weight="bold" >00:00</text>
<text x="428.23" y="523.40" font-size="9.46" textLength="21.89" lengthAdjust="spacingAndGlyphs" fill="#1a1a1a" stroke="#1a1a1a" stroke-width="0.3" font-weight="bold" >01:00</text>
<text x="467.50" y="523.40" font-size="9.46" textLength="21.89" lengthAdjust="spacingAndGlyphs" fill="#1a1a1a" stroke="#1a1a1a" stroke-width="0.3" font-weight="bold" >02:00</text>
<text x="506.77" y="523.40" font-size="9.46" textLength="21.89" lengthAdjust="spacingAndGlyphs" fill="#1a1a1a" stroke="#1a1a1a" stroke-width="0.3" font-weight="bold" >03:00</text>
<text x="546.04" y="523.40" font-size="9.46" textLength="21.89" lengthAdjust="spacingAndGlyphs" fill="#1a1a1a" stroke="#1a1a1a" stroke-width="0.3" font-weight="bold" >04:00</text>
<text x="585.31" y="523.40" font-size="9.46" textLength="21.89" lengthAdjust="spacingAndGlyphs" fill="#1a1a1a" stroke="#1a1a1a" stroke-width="0.3" font-weight="bold" >05:00</text>
<text x="628.39" y="524.90" font-size="10.32" textLength="22.88" lengthAdjust="spacingAndGlyphs" fill="#1a1a1a" stroke="#1a1a1a" stroke-width="0.3" font-weight="bold" >24:00</text>
<text x="465.48" y="323.80" font-size="13.23" textLength="88.65" lengthAdjust="spacingAndGlyphs" fill="#1a1a1a" stroke="#1a1a1a" stroke-width="0.3" font-weight="bold" >Total molar 2.8 M</text>
<text x="486.28" y="553.70" font-size="12.50" textLength="55.06" lengthAdjust="spacingAndGlyphs" fill="#1a1a1a" stroke="#1a1a1a" stroke-width="0.3" font-weight="bold" >Time (hrs.)</text>
<text transform="rotate(-90)" x="-501.69" y="364.00" font-size="12.21" textLength="74.70" lengthAdjust="spacingAndGlyphs" fill="#1a1a1a" stroke="#1a1a1a" stroke-width="0.3" font-weight="bold">Adsorbed Cr(</text>
<text transform="rotate(-90)" x="-409.01" y="364.00" font-size="12.21" textLength="56.33" lengthAdjust="spacingAndGlyphs" fill="#1a1a1a" stroke="#1a1a1a" stroke-width="0.3" font-weight="bold">) (mg/gm)</text>
<rect x="355.70" y="412.09" width="7.10" height="1.86" fill="#1a1a1a"/>
<rect x="355.70" y="415.57" width="7.10" height="1.86" fill="#1a1a1a"/>
<rect x="355.70" y="419.05" width="7.10" height="1.86" fill="#1a1a1a"/>
<rect x="355.10" y="410.70" width="1.0" height="11.60" fill="#1a1a1a"/>
<rect x="362.40" y="410.70" width="1.0" height="11.60" fill="#1a1a1a"/>
</svg>
</body></html>
